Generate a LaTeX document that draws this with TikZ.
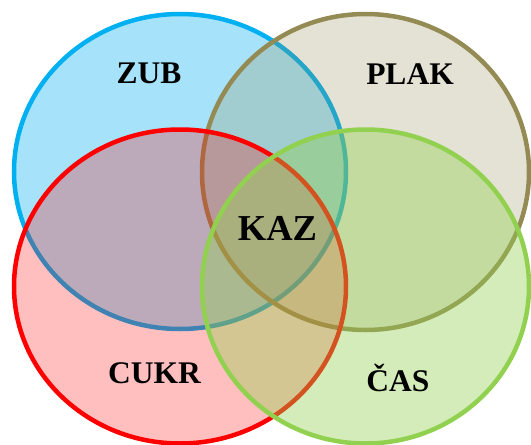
\documentclass[tikz,border=0pt]{standalone}
\usepackage{fontspec}
\setmainfont{Liberation Serif}
\definecolor{cblue}{HTML}{00B0F0}
\definecolor{colive}{HTML}{948A54}
\definecolor{cred}{HTML}{FF0000}
\definecolor{cgreen}{HTML}{92D050}
\begin{document}
\begin{tikzpicture}[x=1pt,y=-1pt,
  setring/.style={line width=4.5pt},
  lbl/.style={anchor=base,inner sep=0pt,font=\fontsize{31.5}{31.5}\selectfont\bfseries},
  biglbl/.style={anchor=base,inner sep=0pt,font=\fontsize{36.5}{36.5}\selectfont\bfseries}]
\useasboundingbox (0,0) rectangle (531,445);
\draw[setring,draw=cblue,fill=cblue,fill opacity=0.35] (180,171.5) ellipse [x radius=166, y radius=157.5];
\draw[setring,draw=colive,fill=colive,fill opacity=0.25] (365.5,172) ellipse [x radius=163.5, y radius=158];
\draw[setring,draw=cred,fill=cred,fill opacity=0.25] (180,286.5) ellipse [x radius=166, y radius=157];
\draw[setring,draw=cgreen,fill=cgreen,fill opacity=0.4] (365.5,286.5) ellipse [x radius=163.5, y radius=157];
\node[lbl] (zub) at (149,83.3) {ZUB};
\node[lbl] (plak) at (410,84) {PLAK};
\node[biglbl] (kaz) at (277.5,240.7) {KAZ};
\node[lbl] (cukr) at (154.5,383.3) {CUKR};
\node[lbl] (cas) at (397.8,391.7) {ČAS};
\end{tikzpicture}
\end{document}
